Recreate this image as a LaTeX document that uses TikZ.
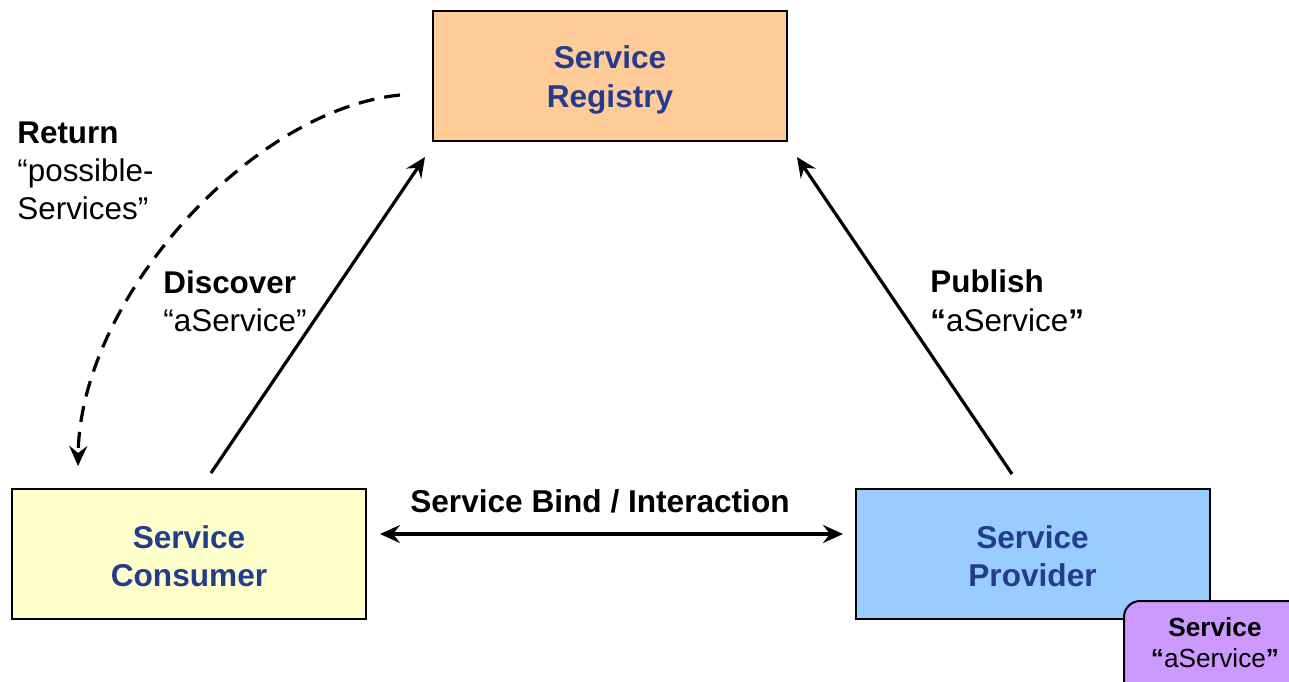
\documentclass[tikz,border=0pt]{standalone}
\usepackage{fontspec}
\setmainfont{Liberation Sans}
\usetikzlibrary{arrows.meta}
\definecolor{navy}{HTML}{233C8C}
\definecolor{peach}{HTML}{FFCC99}
\definecolor{paleyellow}{HTML}{FFFFCC}
\definecolor{skyblue}{HTML}{99CCFF}
\definecolor{lilac}{HTML}{CC99FF}
\tikzset{
  box/.style={draw=black, line width=1pt, minimum width=177pt, minimum height=65pt},
  boxtext/.style={align=center, font=\fontsize{15.8}{19.2}\selectfont\bfseries, text=navy},
  lbl/.style={align=left, anchor=north west, inner sep=0pt,
    font=\fontsize{15.7}{19.2}\selectfont},
  conn/.style={line width=1.6pt, -{Stealth[length=10pt, width=9pt, inset=3.5pt]}},
}
\begin{document}
\begin{tikzpicture}[x=0.5pt, y=-0.5pt]
\useasboundingbox (0,0) rectangle (1289,681);
\clip (0,0) rectangle (1289,681);

% main boxes, with their captions
\node[box, fill=peach] (reg) at (610,75.5) {};
\node[boxtext] (regt) at (610,80) {Service\\Registry};
\node[box, fill=paleyellow] (con) at (189,554) {};
\node[boxtext] (cont) at (189,556) {Service\\Consumer};
\node[box, fill=skyblue] (pro) at (1032.5,554) {};
\node[boxtext] (prot) at (1032.5,556) {Service\\Provider};

% the published service, partly behind the edge
\node[draw=black, line width=1pt, fill=lilac, rounded corners=8pt, anchor=north west,
  minimum width=100pt, minimum height=50pt, inner sep=0pt] (svc) at (1123,600) {};
\node[align=center, font=\fontsize{13.1}{15.5}\selectfont] (svct) at (1215,642.5)
  {\textbf{Service}\\\textbf{“}aService\textbf{”}};

% connector endpoints
\coordinate (dStart) at (211,473);
\coordinate (dEnd) at (425,157);
\coordinate (pStart) at (1012,474);
\coordinate (pEnd) at (797,157);
\coordinate (bL) at (380,534);
\coordinate (bR) at (843,534);
\coordinate (rStart) at (400,95);
\coordinate (rEnd) at (78,466);

\draw[conn] (dStart) -- (dEnd);
\draw[conn] (pStart) -- (pEnd);
\draw[line width=1.6pt, {Stealth[length=10pt, width=9pt, inset=3.5pt]}-{Stealth[length=10pt, width=9pt, inset=3.5pt]}] (bL) -- (bR);
\draw[conn, dash pattern=on 8pt off 5pt] (rStart) .. controls (250,110) and (80,300) .. (rEnd);

% labels
\node[lbl] (lret) at (17,121) {\textbf{Return}\\“possible-\\Services”};
\node[lbl] (ldis) at (163,270) {\textbf{Discover}\\“aService”};
\node[lbl] (lpub) at (930,269.5) {\textbf{Publish}\\\textbf{“}aService\textbf{”}};
\node[font=\fontsize{15.8}{19}\selectfont\bfseries] (lbind) at (600,501) {Service Bind / Interaction};
\end{tikzpicture}
\end{document}
